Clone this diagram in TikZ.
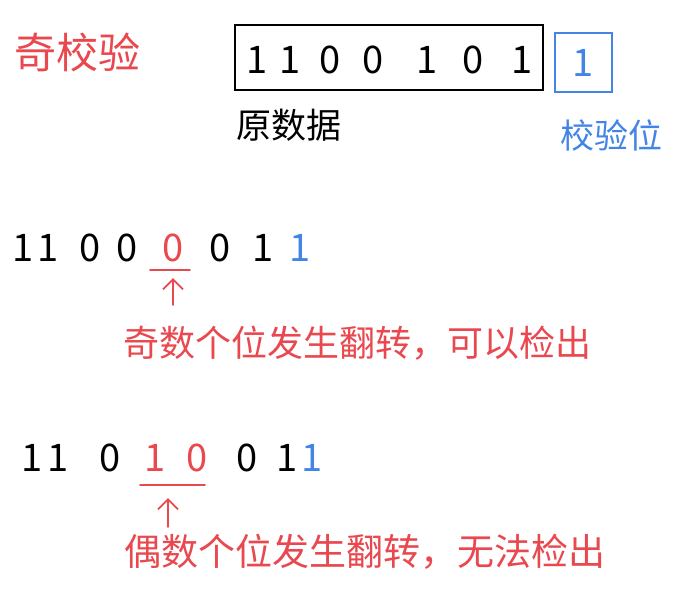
\documentclass[tikz,border=0pt]{standalone}
\usepackage{fontspec}
\setmainfont{Noto Sans CJK SC}
\usetikzlibrary{positioning}
\usetikzlibrary{arrows.meta}
\definecolor{penred}{RGB}{232,72,78}
\definecolor{penblue}{RGB}{66,133,230}

\begin{document}
\begin{tikzpicture}[x=1pt, y=-1pt,
    bit/.style={font=\fontsize{38}{42}\selectfont, inner sep=0pt},
    note/.style={font=\fontsize{36}{40}\selectfont, text=penred, inner sep=0pt},
    pen/.style={line width=1.8pt, line cap=round}]
    \useasboundingbox (0,0) rectangle (698,592);

    % Title
    \node[note, font=\fontsize{42}{46}\selectfont] (title) at (77,52) {奇校验};

    % Data word and parity bit
    \node[draw, pen, minimum width=308, minimum height=65, inner sep=0pt] (data) at (389,57.5) {};
    \foreach \x/\bit [count=\i] in {257/1, 290/1, 330/0, 373/0, 427/1, 473/0, 522/1} {
        \node[bit] (d\i) at (\x,60) {\bit};
    }
    \node[draw=penblue, pen, minimum width=57, minimum height=59, inner sep=0pt] (chk) at (583.5,62.5) {};
    \node[bit, text=penblue] (p) at (chk) {1};
    \node[font=\fontsize{35}{40}\selectfont, inner sep=0pt] (datalbl) at (289,125) {原数据};
    \node[font=\fontsize{34}{38}\selectfont, text=penblue, inner sep=0pt] (chklbl) at (611,135) {校验位};

    % One bit flipped
    \foreach \x/\bit/\c [count=\i] in {23/1/black, 48/1/black, 90/0/black, 127/0/black,
                                       173/0/penred, 220/0/black, 263/1/black, 300/1/penblue} {
        \node[bit, text=\c] (e\i) at (\x,248) {\bit};
    }
    \coordinate (ula) at (150,270);
    \coordinate (ulb) at (190,270);
    \draw[pen, penred] (ula) -- (ulb);
    \coordinate (tail1) at (173,305);
    \coordinate (tip1) at (173,278);
    \draw[pen, penred, -{Straight Barb[length=10pt, width=20pt]}] (tail1) -- (tip1);
    \node[note] (odd) at (357,343) {奇数个位发生翻转，可以检出};

    % Two bits flipped
    \foreach \x/\bit/\c [count=\i] in {32/1/black, 58/1/black, 110/0/black, 155/1/penred,
                                       197/0/penred, 247/0/black, 287/1/black, 312/1/penblue} {
        \node[bit, text=\c] (f\i) at (\x,458) {\bit};
    }
    \coordinate (uma) at (140,485);
    \coordinate (umb) at (205,485);
    \draw[pen, penred] (uma) -- (umb);
    \coordinate (tail2) at (168,527);
    \coordinate (tip2) at (168,498);
    \draw[pen, penred, -{Straight Barb[length=10pt, width=20pt]}] (tail2) -- (tip2);
    \node[note, font=\fontsize{37}{42}\selectfont] (even) at (365,552) {偶数个位发生翻转，无法检出};
\end{tikzpicture}
\end{document}
